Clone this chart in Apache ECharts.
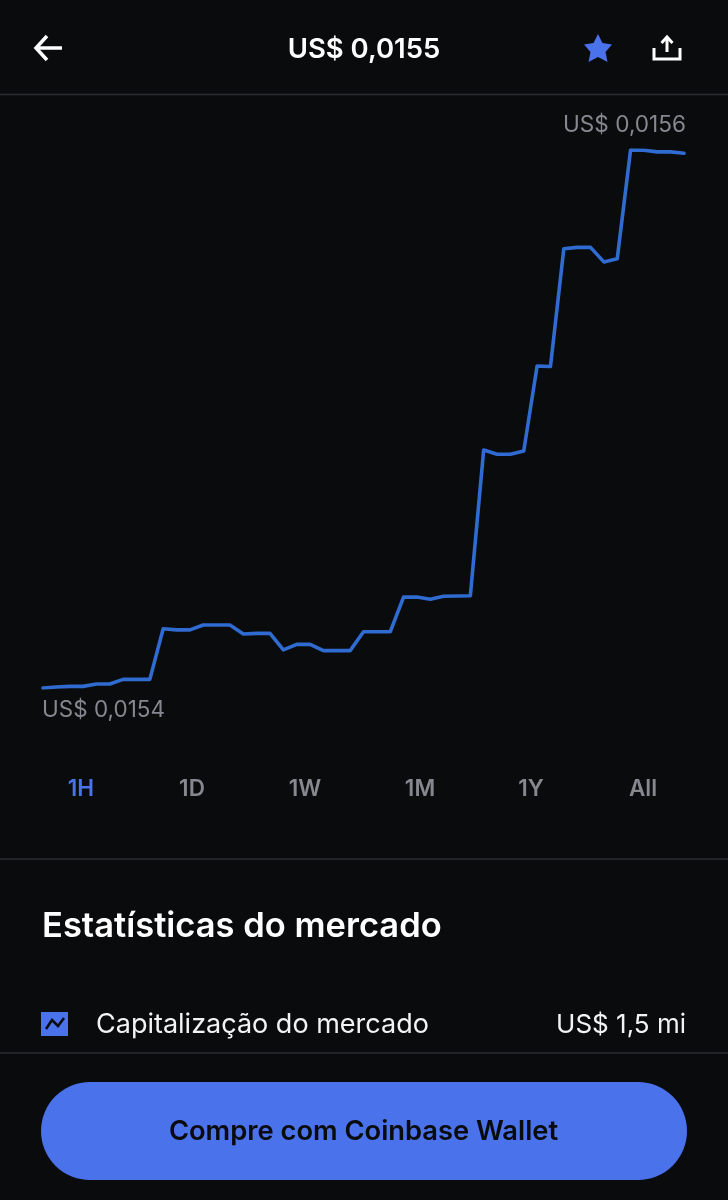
<!DOCTYPE html>
<html lang="pt" style="height: 100%">
<head>
  <meta charset="utf-8">
  <title>US$ 0,0155</title>
</head>
<body style="height: 100%; margin: 0; background: #0a0b0d">
  <div id="container" style="width: 728px; height: 1200px"></div>

  <script src="https://cdn.jsdelivr.net/npm/echarts@6/dist/echarts.min.js"></script>
  <script>
    var prices = [
      0.0154000, 0.0154004, 0.0154006, 0.0154006, 0.0154015, 0.0154015, 0.0154032,
      0.0154032, 0.0154032, 0.0154220, 0.0154216, 0.0154216, 0.0154234, 0.0154234,
      0.0154234, 0.0154201, 0.0154203, 0.0154203, 0.0154142, 0.0154162, 0.0154162,
      0.0154139, 0.0154139, 0.0154139, 0.0154209, 0.0154209, 0.0154209, 0.0154338,
      0.0154338, 0.0154330, 0.0154341, 0.0154342, 0.0154343, 0.0154885, 0.0154869,
      0.0154869, 0.0154881, 0.0155197, 0.0155195, 0.0155633, 0.0155638, 0.0155638,
      0.0155584, 0.0155596, 0.0156000, 0.0155999, 0.0155993, 0.0155993, 0.0155988
    ];
    var steps = prices.map(function (p, i) { return i; });
    var priceMin = 0.0154;
    var priceMax = 0.0156;

    var currentPrice = 'US$ 0,0155';
    var maxLabel = 'US$ 0,0156';
    var minLabel = 'US$ 0,0154';
    var ranges = ['1H', '1D', '1W', '1M', '1Y', 'All'];
    var rangeCenters = [81, 192, 305, 420, 531, 643];

    var BLUE = '#4a72ea';
    var LINE = '#2f6bd0';
    var GREY = '#85888e';
    var RULE = '#2a2c30';
    var FONT = 'Inter';

    function text(x, y, str, size, weight, color, align) {
      return {
        type: 'text',
        x: x,
        y: y,
        style: {
          text: str,
          fill: color,
          font: weight + ' ' + size + 'px ' + FONT,
          align: align || 'left',
          verticalAlign: 'middle'
        }
      };
    }

    function rule(y) {
      return {
        type: 'line',
        shape: { x1: 0, y1: y, x2: 728, y2: y },
        style: { stroke: RULE, lineWidth: 1.5 }
      };
    }

    function stroke(points, color, width) {
      return {
        type: 'polyline',
        shape: { points: points },
        style: { stroke: color, lineWidth: width, fill: null, lineCap: 'butt', lineJoin: 'miter' }
      };
    }

    var graphics = [
      // header
      stroke([[62, 48], [36, 48]], '#fff', 3.5),
      stroke([[47, 36], [36, 48], [47, 60]], '#fff', 3.5),
      text(364, 49.5, currentPrice, 27.5, 600, '#fff', 'center'),
      {
        type: 'polygon',
        shape: {
          points: [[598, 34], [602.5, 43], [612, 44.5], [605.5, 52], [607.5, 62], [598, 57], [588.5, 62], [590.5, 52], [584, 44.5], [593.5, 43]]
        },
        style: { fill: BLUE }
      },
      stroke([[654, 48], [654, 59], [680, 59], [680, 48]], '#fff', 3),
      stroke([[667, 39], [667, 52]], '#fff', 3),
      stroke([[661.5, 43], [667, 37], [672.5, 43]], '#fff', 3),
      rule(94.5),

      // price range labels
      text(686, 125, maxLabel, 22.6, 400, GREY, 'right'),
      text(42, 710, minLabel, 22.5, 400, GREY, 'left'),

      rule(859),

      // stats
      text(42, 927, 'Estatísticas do mercado', 34.5, 600, '#fff'),
      { type: 'rect', shape: { x: 41, y: 1012, width: 27, height: 24 }, style: { fill: BLUE } },
      stroke([[46, 1029], [52, 1020], [58, 1026], [64, 1018]], '#0a0b0d', 2.5),
      text(96, 1025, 'Capitalização do mercado', 27, 400, '#f2f3f4'),
      text(686, 1025, 'US$ 1,5 mi', 26, 400, '#f2f3f4', 'right'),
      rule(1053),

      // buy button
      {
        type: 'rect',
        shape: { x: 41, y: 1082, width: 646, height: 98, r: 49 },
        style: { fill: BLUE }
      },
      text(363.5, 1132, 'Compre com Coinbase Wallet', 27.3, 600, '#0a0b0d', 'center')
    ];

    ranges.forEach(function (r, i) {
      graphics.push(text(rangeCenters[i], 789, r, 22.5, 600, i === 0 ? BLUE : GREY, 'center'));
    });

    var myChart = echarts.init(document.getElementById('container'), null, { renderer: 'canvas' });

    myChart.setOption({
      backgroundColor: '#0a0b0d',
      animation: false,
      grid: { left: 43, right: 44, top: 150, height: 538 },
      xAxis: { type: 'category', data: steps, boundaryGap: false, show: false },
      yAxis: { type: 'value', min: priceMin, max: priceMax, show: false },
      graphic: graphics,
      series: [
        {
          type: 'line',
          data: prices,
          symbol: 'none',
          smooth: false,
          lineStyle: { color: LINE, width: 3.6, cap: 'round', join: 'round' }
        }
      ]
    });
  </script>
</body>
</html>
